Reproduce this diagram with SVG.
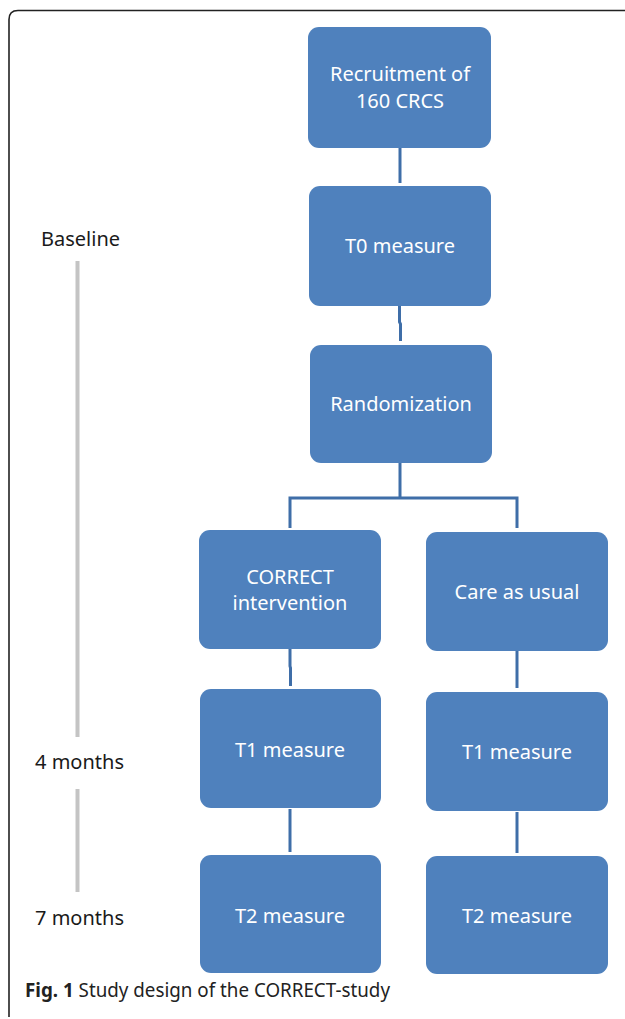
<svg xmlns="http://www.w3.org/2000/svg" width="625" height="1019" viewBox="0 0 625 1019">
<style>
.box{fill:#4f81bd}
.bt{font-family:"Noto Sans","Open Sans",sans-serif;font-size:20px;fill:#ffffff;text-anchor:middle}
.lt{font-family:"Noto Sans","Open Sans",sans-serif;font-size:20px;fill:#1a1a1a}
.con{stroke:#3f6ea8;stroke-width:3;fill:none}
.tl{stroke:#c4c4c4;stroke-width:4;fill:none}
.cap{font-family:"Noto Sans","Open Sans",sans-serif;font-size:19.5px;fill:#222222}
</style>
<rect width="625" height="1019" fill="#ffffff"/>
<path d="M700 10.5 H18 Q9 10.5 9 19.5 V1017" fill="none" stroke="#222222" stroke-width="1.6"/>
<g id="connectors">
<line class="con" x1="400" y1="148" x2="400" y2="183"/>
<path class="con" d="M399.5 306 V322 L400.5 324 V341"/>
<line class="con" x1="400" y1="463" x2="400" y2="498"/>
<path class="con" d="M290 528 V498 H517 V528"/>
<path class="con" d="M290 649 V666 L290.5 668 V686"/>
<line class="con" x1="290" y1="809" x2="290" y2="852"/>
<line class="con" x1="517" y1="651" x2="517" y2="688"/>
<line class="con" x1="517" y1="812" x2="517" y2="853"/>
</g>
<g id="timeline">
<line class="tl" x1="77.5" y1="261" x2="77.5" y2="737"/>
<line class="tl" x1="77.5" y1="789" x2="77.5" y2="892"/>
<text class="lt" x="41" y="246">Baseline</text>
<text class="lt" x="35" y="769">4 months</text>
<text class="lt" x="35" y="925">7 months</text>
</g>
<g id="recruitment">
<rect class="box" x="308" y="27" width="183" height="121" rx="11"/>
<text class="bt" x="400" y="81">Recruitment of</text>
<text class="bt" x="400" y="108">160 CRCS</text>
</g>
<g id="t0">
<rect class="box" x="309" y="186" width="182" height="120" rx="11"/>
<text class="bt" x="400" y="253">T0 measure</text>
</g>
<g id="randomization">
<rect class="box" x="310" y="345" width="182" height="118" rx="11"/>
<text class="bt" x="401" y="411">Randomization</text>
</g>
<g id="correct">
<rect class="box" x="199" y="530" width="182" height="119" rx="11"/>
<text class="bt" x="290" y="584">CORRECT</text>
<text class="bt" x="290" y="610">intervention</text>
</g>
<g id="care">
<rect class="box" x="426" y="532" width="182" height="119" rx="11"/>
<text class="bt" x="517" y="599">Care as usual</text>
</g>
<g id="t1-left">
<rect class="box" x="200" y="689" width="181" height="119" rx="11"/>
<text class="bt" x="290" y="757">T1 measure</text>
</g>
<g id="t1-right">
<rect class="box" x="426" y="692" width="182" height="119" rx="11"/>
<text class="bt" x="517" y="759">T1 measure</text>
</g>
<g id="t2-left">
<rect class="box" x="200" y="855" width="181" height="118" rx="11"/>
<text class="bt" x="290" y="923">T2 measure</text>
</g>
<g id="t2-right">
<rect class="box" x="426" y="856" width="182" height="118" rx="11"/>
<text class="bt" x="517" y="923">T2 measure</text>
</g>
<g id="caption">
<text class="cap" x="25" y="997" textLength="365" lengthAdjust="spacingAndGlyphs"><tspan font-weight="bold">Fig. 1</tspan> Study design of the CORRECT-study</text>
</g>
</svg>
